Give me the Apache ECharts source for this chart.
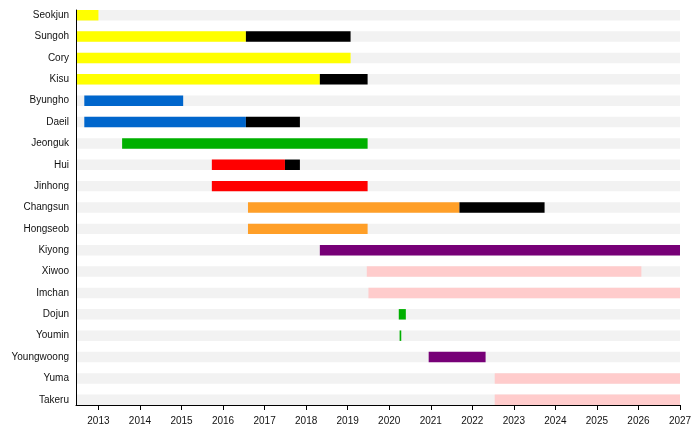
<!DOCTYPE html>
<html>
<head>
<meta charset="utf-8">
<script src="https://cdn.jsdelivr.net/npm/echarts@6/dist/echarts.min.js"></script>
<style>html,body{margin:0;padding:0;background:#fff}#c{width:700px;height:426px}</style>
</head>
<body>
<div id="c"></div>
<script>
const members = ["Seokjun","Sungoh","Cory","Kisu","Byungho","Daeil","Jeonguk","Hui","Jinhong","Changsun","Hongseob","Kiyong","Xiwoo","Imchan","Dojun","Youmin","Youngwoong","Yuma","Takeru"];
const tickYears = [2013,2014,2015,2016,2017,2018,2019,2020,2021,2022,2023,2024,2025,2026,2027];
const timelineStart = 2012.46;
const timelineEnd = 2027;
const segMember = ["Seokjun","Sungoh","Sungoh","Cory","Kisu","Kisu","Byungho","Daeil","Daeil","Jeonguk","Hui","Hui","Jinhong","Changsun","Changsun","Hongseob","Kiyong","Xiwoo","Imchan","Dojun","Youmin","Youngwoong","Yuma","Takeru"];
const segStart  = [2012.46,2012.46,2016.55,2012.46,2012.46,2018.33,2012.66,2012.66,2016.55,2013.57,2015.73,2017.49,2015.73,2016.60,2021.69,2016.60,2018.33,2019.46,2019.50,2020.23,2020.25,2020.95,2022.54,2022.54];
const segEnd    = [2013.00,2016.55,2019.07,2019.07,2018.33,2019.48,2015.04,2016.55,2017.85,2019.48,2017.49,2017.85,2019.48,2021.69,2023.74,2019.48,2027.00,2026.07,2027.00,2020.40,2020.29,2022.32,2027.00,2027.00];
const segGroup  = ["yellow","yellow","black","yellow","yellow","black","blue","blue","black","green","red","black","red","orange","black","orange","purple","pink","pink","green","green","purple","pink","pink"];

const groupColors = {yellow:"#ffff00",black:"#000000",blue:"#0066cc",green:"#00b000",red:"#ff0000",orange:"#ff9f28",purple:"#770077",pink:"#ffcccc"};

const bgData = members.map((m,i)=>[i,timelineStart,timelineEnd]);
const segData = segMember.map((m,k)=>({value:[members.indexOf(m),segStart[k],segEnd[k]],itemStyle:{color:groupColors[segGroup[k]]}}));

function renderBar(params, api){
  const row = api.value(0);
  const p0 = api.coord([api.value(1), row]);
  const p1 = api.coord([api.value(2), row]);
  const h = api.size([0,1])[1]*0.49;
  return {type:'rect', shape:{x:p0[0], y:p0[1]-h/2, width:Math.max(p1[0]-p0[0],0.5), height:h}, style:api.style()};
}

const chart = echarts.init(document.getElementById('c'), null, {renderer:'canvas'});
chart.setOption({
  animation:false,
  backgroundColor:'#fff',
  textStyle:{fontFamily:'Liberation Sans, Arial, sans-serif'},
  grid:{left:76,right:20,top:10,bottom:20,containLabel:false},
  xAxis:{
    type:'value', min:timelineStart, max:timelineEnd, z:10,
    axisLine:{show:true,onZero:false,lineStyle:{color:'#000',width:1}},
    axisTick:{show:true,length:5,lineStyle:{color:'#000'},customValues:tickYears},
    axisLabel:{show:true,customValues:tickYears,color:'#111',fontSize:10,margin:11,formatter:v=>String(Math.round(v))},
    splitLine:{show:false}
  },
  yAxis:{
    type:'value', inverse:true, min:-0.245, max:members.length-1+0.245, z:10,
    axisLine:{show:true,onZero:false,lineStyle:{color:'#000',width:1}},
    axisTick:{show:false},
    axisLabel:{show:true,customValues:members.map((m,i)=>i),color:'#111',fontSize:10,margin:7,padding:[0,0,3,0],formatter:v=>members[Math.round(v)]||''},
    splitLine:{show:false}
  },
  series:[
    {type:'custom',renderItem:renderBar,data:bgData,itemStyle:{color:'#f2f2f2'},encode:{x:[1,2],y:0},silent:true,z:1},
    {type:'custom',renderItem:renderBar,data:segData,encode:{x:[1,2],y:0},z:2}
  ]
});
</script>
</body>
</html>
